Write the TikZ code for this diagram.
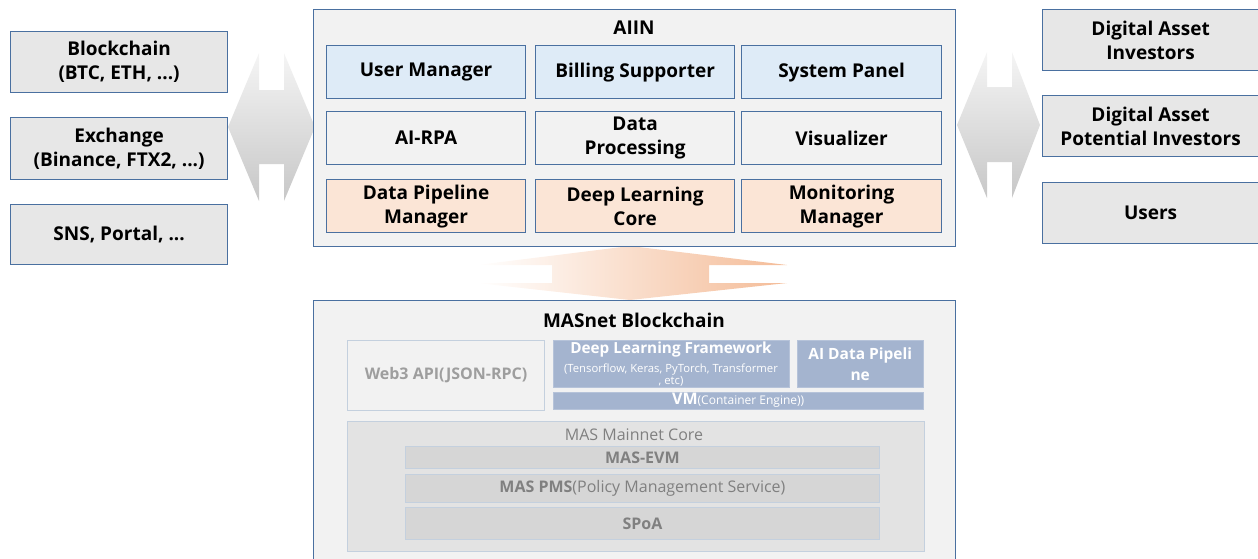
\documentclass[tikz,border=0pt]{standalone}
\usepackage{fontspec}
\setmainfont{Open Sans}
\begin{document}
\begin{tikzpicture}[x=1pt,y=-1pt,
  bx/.style={draw=boxblue, line width=1.2pt, anchor=north west, inner sep=0pt, align=center, font=\bfseries\fontsize{19}{24}\selectfont, text=black},
  graybox/.style={bx, fill=lgray},
  bluebox/.style={bx, fill=lblue},
  plainbox/.style={bx, fill=bggray},
  orbox/.style={bx, fill=lorange},
  slate/.style={anchor=north west, inner sep=0pt, fill=slateblue, draw=slateblue!80!white, align=center, text=white},
  corebox/.style={anchor=north west, inner sep=0pt, fill=coregray, draw=coreborder, line width=0.8pt, align=center, text=coretext, font=\fontsize{16}{19}\selectfont}
]
\definecolor{boxblue}{RGB}{74,112,160}
\definecolor{lgray}{RGB}{231,231,231}
\definecolor{bggray}{RGB}{242,242,242}
\definecolor{lblue}{RGB}{222,235,247}
\definecolor{lorange}{RGB}{251,229,214}
\definecolor{slateblue}{RGB}{164,180,207}
\definecolor{coregray}{RGB}{214,214,214}
\definecolor{coreborder}{RGB}{196,208,222}
\definecolor{coretext}{RGB}{128,128,128}
\definecolor{orangeend}{RGB}{244,188,152}
\useasboundingbox (0,0) rectangle (1258,558);

% left boxes
\node[graybox, minimum width=217pt, minimum height=61pt] (bc) at (10,31) {Blockchain\\(BTC, ETH, ...)};
\node[graybox, minimum width=217pt, minimum height=62pt] (ex) at (10,117) {Exchange\\(Binance, FTX2, ...)};
\node[graybox, minimum width=217pt, minimum height=60pt] (sns) at (10,204) {SNS, Portal, ...};

% right boxes
\node[graybox, minimum width=216pt, minimum height=61pt] (dai) at (1042,9) {Digital Asset\\Investors};
\node[graybox, minimum width=216pt, minimum height=61pt] (dap) at (1042,95) {Digital Asset\\Potential Investors};
\node[graybox, minimum width=216pt, minimum height=61pt] (usr) at (1042,182) {Users};

% left double arrow
\shade[top color=black!4, bottom color=black!22]
  (228,127) -- (259,53) -- (259,90) -- (284,90) -- (284,53) -- (315,127)
  -- (284,201) -- (284,164) -- (259,164) -- (259,201) -- cycle;
% right double arrow
\shade[top color=black!4, bottom color=black!22]
  (957,125) -- (987,52) -- (987,87) -- (1012,87) -- (1012,52) -- (1040,125)
  -- (1012,198) -- (1012,162) -- (987,162) -- (987,198) -- cycle;
% orange double arrow
\shade[left color=white, right color=orangeend]
  (630,246) -- (787,265) -- (709,265) -- (709,283) -- (787,283) -- (630,300)
  -- (477,283) -- (552,283) -- (552,265) -- (477,265) -- cycle;

% AIIN
\node[plainbox, minimum width=642pt, minimum height=237pt] (aiin) at (313,9) {};
\node[font=\bfseries\fontsize{19}{24}\selectfont, anchor=center] (aiint) at (634,28) {AIIN};
\node[bluebox, minimum width=199pt, minimum height=53pt] (um) at (326,45) {User Manager};
\node[bluebox, minimum width=199pt, minimum height=53pt] (bs) at (535,45) {Billing Supporter};
\node[bluebox, minimum width=200pt, minimum height=53pt] (sp) at (741,45) {System Panel};
\node[plainbox, minimum width=199pt, minimum height=53pt] (rpa) at (326,111) {AI-RPA};
\node[plainbox, minimum width=199pt, minimum height=53pt] (dp) at (535,111) {Data\\Processing};
\node[plainbox, minimum width=200pt, minimum height=53pt] (vis) at (741,111) {Visualizer};
\node[orbox, minimum width=199pt, minimum height=53pt] (dpm) at (326,179) {Data Pipeline\\Manager};
\node[orbox, minimum width=199pt, minimum height=53pt] (dlc) at (535,179) {Deep Learning\\Core};
\node[orbox, minimum width=200pt, minimum height=53pt] (mm) at (741,179) {Monitoring\\Manager};

% MASnet
\node[plainbox, minimum width=642pt, minimum height=264pt] (mas) at (313,300) {};
\node[font=\bfseries\fontsize{19}{24}\selectfont, anchor=center] (mast) at (634,320) {MASnet Blockchain};
\node[anchor=north west, inner sep=0pt, fill=bggray, draw=coreborder, line width=1pt, minimum width=197pt, minimum height=70pt, text=black!38, font=\bfseries\fontsize{16}{19}\selectfont] (web3) at (347,340) {Web3 API(JSON-RPC)};
\node[slate, minimum width=236pt, minimum height=47pt] (dlf) at (553,340) {};
\node[text=white, font=\bfseries\fontsize{15.3}{18}\selectfont, anchor=center] (dlft) at (671,350) {Deep Learning Framework};
\node[text=white, font=\fontsize{11.3}{12}\selectfont, anchor=north, align=center] (dlfs) at (671,360) {(Tensorflow, Keras, PyTorch, Transformer\\, etc)};
\node[slate, minimum width=126pt, minimum height=47pt, font=\bfseries\fontsize{15.5}{21}\selectfont] (aidp) at (797,340) {AI Data Pipeli\\ne};
\node[slate, minimum width=370pt, minimum height=17pt] (vm) at (553,392) {\bfseries\fontsize{16}{16}\selectfont VM\mdseries\fontsize{12}{12}\selectfont(Container Engine))};

\node[anchor=north west, inner sep=0pt, fill=black!11, draw=coreborder, line width=0.8pt, minimum width=577pt, minimum height=130pt] (core) at (347,421) {};
\node[text=black!50, font=\fontsize{16}{19}\selectfont, anchor=center] (coret) at (634,435) {MAS Mainnet Core};
\node[corebox, minimum width=474pt, minimum height=22pt] (evm) at (405,446) {\bfseries MAS-EVM};
\node[corebox, minimum width=474pt, minimum height=28pt] (pms) at (405,474) {\bfseries MAS PMS\mdseries(Policy Management Service)};
\node[corebox, minimum width=474pt, minimum height=32pt] (spoa) at (405,507) {\bfseries SPoA};
\end{tikzpicture}
\end{document}
